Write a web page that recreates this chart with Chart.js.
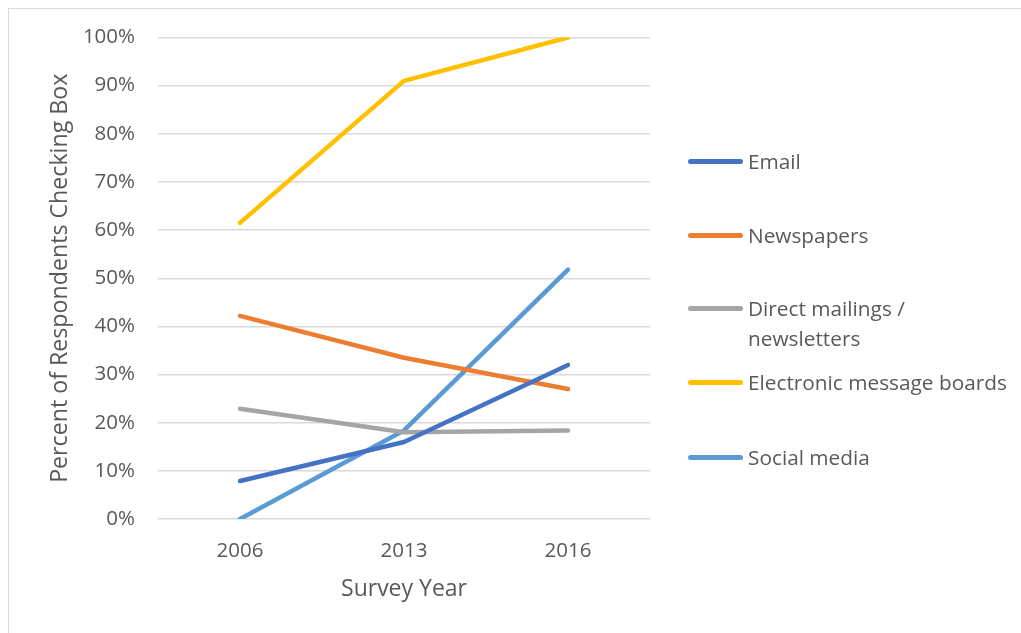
<!DOCTYPE html>
<html>
<head>
<meta charset="utf-8">
<script src="https://cdn.jsdelivr.net/npm/chart.js@4.4.0/dist/chart.umd.min.js"></script>
<style>
  body { margin: 0; background: #fff; font-family: "Open Sans", sans-serif; }
  #wrap { position: relative; width: 1021px; height: 633px; overflow: hidden; }
  #marco { position: absolute; left: 8px; top: 8px; width: 1030px; height: 640px; border: 1px solid #d9d9d9; }
  #myChart { position: absolute; left: 0; top: 0; }
  .item { position: absolute; left: 688px; color: #595959; font-size: 20.8px; line-height: 30px; }
  .item .linea { position: absolute; left: 0; top: 13px; width: 55px; height: 5px; border-radius: 3px; }
  .item .texto { position: absolute; left: 60px; top: 0; white-space: nowrap; }
</style>
</head>
<body>
<div id="wrap">
  <div id="marco"></div>
  <canvas id="myChart" width="1021" height="633"></canvas>
  <div id="leyenda"></div>
</div>
<script>
// datos
const anos = ['2006', '2013', '2016'];
const email = [7.9, 16.0, 32.0];
const periodicos = [42.2, 33.5, 27.0];
const correoDirecto = [22.9, 18.0, 18.4];
const foros = [61.5, 91.0, 100];
const redesSociales = [0, 18.4, 51.8];

const nombres = ['Email', 'Newspapers', 'Direct mailings /\nnewsletters', 'Electronic message boards', 'Social media'];
const colores = ['#4472c4', '#ed7d31', '#a5a5a5', '#ffc000', '#5b9bd5'];
const valores = [email, periodicos, correoDirecto, foros, redesSociales];

const gris = '#595959';

let datasets = [];
valores.forEach((v, i) => {
    datasets.push({
        label: nombres[i],
        data: v,
        borderColor: colores[i],
        backgroundColor: colores[i],
        borderWidth: 4.5,
        borderCapStyle: 'round',
        borderJoinStyle: 'round',
        pointRadius: 0,
        tension: 0,
        fill: false
    });
});

const ctx = document.querySelector('#myChart').getContext('2d');
const chart = new Chart(ctx, {
    type: 'line',
    data: { labels: anos, datasets: datasets },
    options: {
        responsive: false,
        animation: false,
        layout: { padding: { left: 42, top: 37.5, right: 371, bottom: 26 } },
        plugins: { legend: { display: false }, tooltip: { enabled: false } },
        scales: {
            x: {
                offset: true,
                grid: { display: false, drawTicks: false },
                border: { display: false },
                ticks: { color: gris, font: { family: 'Open Sans', size: 20.5 }, padding: 20 },
                title: { display: true, text: 'Survey Year', color: gris, font: { family: 'Open Sans', size: 23 } },
                afterFit: function (scale) { scale.height = 88; }
            },
            y: {
                min: 0,
                max: 100,
                ticks: {
                    stepSize: 10,
                    color: gris,
                    font: { family: 'Open Sans', size: 20.5 },
                    padding: 23,
                    callback: function (v) { return v + '%'; }
                },
                grid: { color: '#d9d9d9', lineWidth: 1.5, drawTicks: false },
                border: { display: false },
                title: { display: true, text: 'Percent of Respondents Checking Box', color: gris, font: { family: 'Open Sans', size: 23.2 } },
                afterFit: function (scale) { scale.width = 116; }
            }
        }
    }
});

// leyenda
const posiciones = [146, 220, 293, 367, 442];
let html = '';
datasets.forEach((d, i) => {
    html += `<div class="item" style="top:${posiciones[i]}px"><span class="linea" style="background:${d.borderColor}"></span><span class="texto">${d.label.replace('\n', '<br>')}</span></div>`;
});
document.querySelector('#leyenda').innerHTML = html;
</script>
</body>
</html>
